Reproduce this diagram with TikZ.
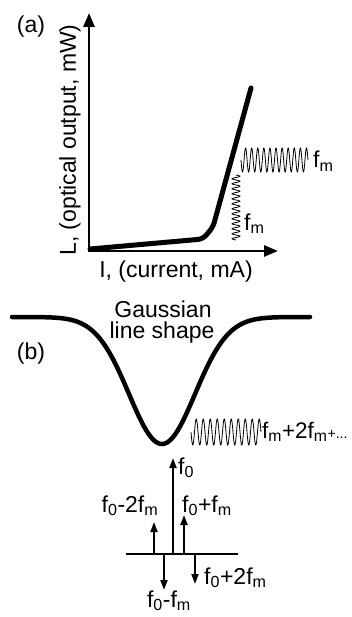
\documentclass[tikz,border=0pt]{standalone}
\usepackage{fontspec}
\setmainfont{Liberation Sans}
\usetikzlibrary{arrows.meta}
\tikzset{
  lbl/.style={inner sep=0pt, font=\fontsize{23}{26}\selectfont},
  thickcurve/.style={line width=5pt, line join=round, line cap=round},
  axis/.style={line width=2.6pt, -{Triangle[length=14pt,width=11pt]}},
  spec/.style={line width=2pt, -{Triangle[length=10pt,width=7pt]}},
  wave/.style={line width=0.8pt}
}
\begin{document}
\begin{tikzpicture}[x=1pt,y=-1pt]
\useasboundingbox (0,0) rectangle (352,617);
% ---- (a)
\node[lbl] (la) at (31,27) {(a)};
\coordinate (o) at (89,252);
\coordinate (ytip) at (89,13);
\coordinate (xtip) at (278,251);
\draw[axis] (o) -- (ytip);
\draw[axis] (88,251) -- (xtip);
\node[lbl, rotate=90] (ylab) at (70,140) {L, (optical output, mW)};
\node[lbl] (xlab) at (176,272) {I, (current, mA)};
\coordinate (c1) at (90,249);
\coordinate (c2) at (203,239);
\coordinate (c3) at (213,227);
\coordinate (c4) at (251,88);
\draw[thickcurve, rounded corners=5pt] (c1) -- (c2) -- (c3) -- (c4);
% horizontal modulation wave
\draw[wave] plot[domain=0:67, samples=300] ({241+\x}, {160+12*sin(\x*11/67*360)});
\node[lbl, anchor=base west] (fm1) at (313,168) {f\textsubscript{m}};
% vertical modulation wave
\draw[wave] plot[domain=0:65, samples=300] ({236+4*sin(\x*13/65*360)}, {175+\x});
\node[lbl, anchor=base west] (fm2) at (244,230) {f\textsubscript{m}};
% ---- (b)
\node[lbl] (lb) at (31,354) {(b)};
\node[lbl, anchor=base] (g1) at (163,317) {Gaussian};
\node[lbl, anchor=base] (g2) at (162,338) {line shape};
\draw[line width=4.5pt, line cap=round] plot[domain=12:310, samples=150] (\x, {317+127*exp(-0.5*((\x-162)/33)^2)});
\draw[wave] plot[domain=0:70, samples=300] ({191+\x}, {432+13*sin(\x*10/70*360)});
\node[lbl, anchor=base west, font=\fontsize{22.5}{25}\selectfont] (fm3) at (262,438) {f\textsubscript{m}+2f\textsubscript{m}{\fontsize{14}{14}\selectfont +...}};
% spectrum
\coordinate (bl) at (126,554);
\coordinate (br) at (238,554);
\draw[line width=2pt] (bl) -- (br);
\coordinate (a0) at (173,555);
\coordinate (a0t) at (173,458);
\draw[spec] (a0) -- (a0t);
\coordinate (am2) at (154,555);
\coordinate (am2t) at (154,522);
\draw[spec] (am2) -- (am2t);
\coordinate (ap1) at (184,555);
\coordinate (ap1t) at (184,515);
\draw[spec] (ap1) -- (ap1t);
\coordinate (am1) at (164,553);
\coordinate (am1t) at (164,590);
\draw[spec] (am1) -- (am1t);
\coordinate (ap2) at (195,553);
\coordinate (ap2t) at (195,584);
\draw[spec] (ap2) -- (ap2t);
\node[lbl, anchor=base west] (t0) at (178,474) {f\textsubscript{0}};
\node[lbl, anchor=base] (tm2) at (130,512) {f\textsubscript{0}-2f\textsubscript{m}};
\node[lbl, anchor=base] (tp1) at (207,512) {f\textsubscript{0}+f\textsubscript{m}};
\node[lbl, anchor=base west] (tp2) at (204,584) {f\textsubscript{0}+2f\textsubscript{m}};
\node[lbl, anchor=base] (tm1) at (169,607) {f\textsubscript{0}-f\textsubscript{m}};
\end{tikzpicture}
\end{document}
